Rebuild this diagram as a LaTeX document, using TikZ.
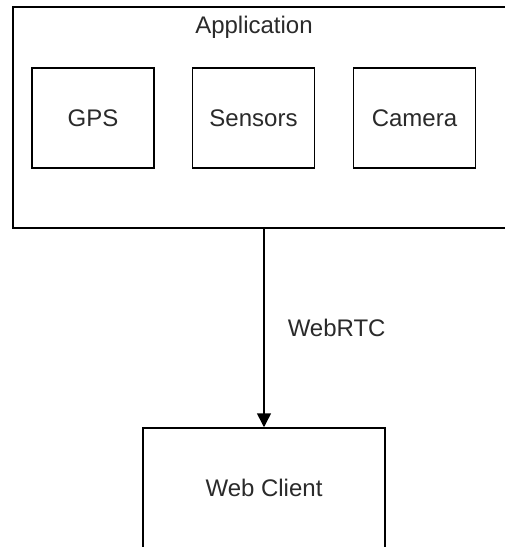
\documentclass[tikz,border=0pt]{standalone}
\usepackage{fontspec}
\setmainfont{Liberation Sans}
\usetikzlibrary{arrows.meta}
\definecolor{ink}{HTML}{2a2a2a}
\tikzset{
  box/.style={draw=black, line width=1.5pt, fill=white, inner sep=0pt},
  label text/.style={text=ink, font=\fontsize{24}{28}\selectfont, inner sep=0pt},
  flow/.style={draw=black, line width=1.5pt, -{Triangle[width=14pt,length=14pt]}}
}
\begin{document}
\begin{tikzpicture}[x=1pt,y=-1pt]
  \useasboundingbox (0,0) rectangle (505,547);
  \clip (0,0) rectangle (505,547);
  % container for the on-device components
  \node[box, line width=2pt, minimum width=502pt, minimum height=221pt] (app) at (264,117.5) {};
  \node[label text] (apptitle) at (254,27) {Application};
  % components inside the application
  \node[box, minimum width=122pt, minimum height=100pt, label text] (gps) at (93,118) {GPS};
  \node[box, minimum width=122pt, minimum height=100pt, label text] (sens) at (253.5,118) {Sensors};
  \node[box, minimum width=122pt, minimum height=100pt, label text] (cam) at (414.5,118) {Camera};
  % remote browser client
  \node[box, minimum width=242pt, minimum height=120pt, label text] (web) at (264,488) {Web Client};
  % stream from application to client
  \draw[flow] (app.south) -- node[label text, right=23pt] (rtc) {WebRTC} (web.north);
\end{tikzpicture}
\end{document}
